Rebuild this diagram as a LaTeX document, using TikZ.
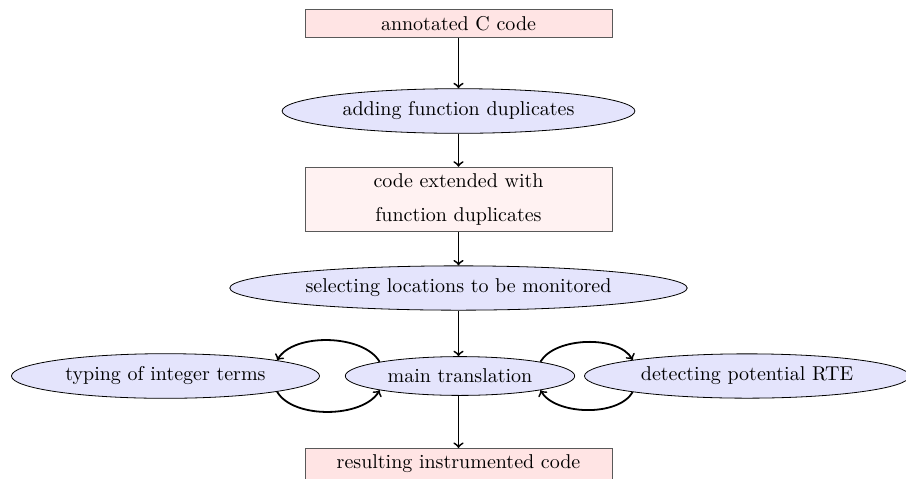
\documentclass[tikz,border=0pt]{standalone}
\usetikzlibrary{shapes.geometric}
\definecolor{boxA}{RGB}{255,228,228}
\definecolor{boxB}{RGB}{255,242,242}
\definecolor{ellfill}{RGB}{228,228,252}
\begin{document}
\begin{tikzpicture}[x=0.5pt,y=-0.5pt,
  procbox/.style={rectangle,draw=black!65,minimum width=153.5pt,inner sep=3.33pt},
  procell/.style={ellipse,draw=black,fill=ellfill,inner xsep=4.4pt},
  flow/.style={->,line width=0.9pt}]
\useasboundingbox (0,0) rectangle (906,478);
\node[procbox,fill=boxA] (src) at (458.5,23.5) {annotated C code};
\node[procell] (dup) at (458.5,111) {adding function duplicates};
\node[procbox,fill=boxB,align=center] (ext) at (458.5,199.5) {code extended with\\[4.8pt]function duplicates};
\node[procell] (sel) at (458.5,288) {selecting locations to be monitored};
\node[procell] (main) at (460,376) {main translation};
\node[procell] (typ) at (165.5,376) {typing of integer terms};
\node[procell] (rte) at (747,376) {detecting potential RTE};
\node[procbox,fill=boxA,anchor=north] (res) at (458.5,448) {resulting instrumented code};
\draw[flow] (src) -- (dup);
\draw[flow] (dup) -- (ext);
\draw[flow] (ext) -- (sel);
\draw[flow] (sel) -- (sel |- main.north);
\draw[flow] (main.south -| res) -- (res);
\draw[flow] (main.170) to[out=120,in=60,looseness=0.8] (typ.8);
\draw[flow] (typ.-8) to[out=-60,in=-120,looseness=0.8] (main.-170);
\draw[flow] (main.10) to[out=60,in=120,looseness=0.8] (rte.172);
\draw[flow] (rte.-172) to[out=-120,in=-60,looseness=0.8] (main.-10);
\end{tikzpicture}
\end{document}
